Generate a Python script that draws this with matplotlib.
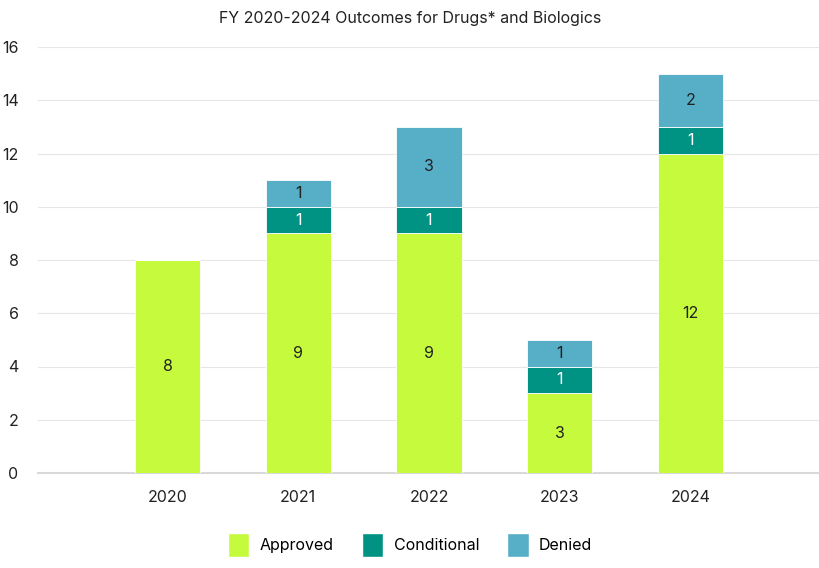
import matplotlib
matplotlib.use("Agg")
import matplotlib.pyplot as plt
from matplotlib.patches import Patch
import numpy as np

plt.rcParams['font.family'] = ['Inter', 'DejaVu Sans']

years = ["2020", "2021", "2022", "2023", "2024"]
approved = [8, 9, 9, 3, 12]
conditional = [0, 1, 1, 1, 1]
denied = [0, 1, 3, 1, 2]
series_names = ["Approved", "Conditional", "Denied"]
colors = ["#C5FB3C", "#009383", "#56AFC6"]
label_colors = ["#222222", "#FFFFFF", "#222222"]
title = "FY 2020-2024 Outcomes for Drugs* and Biologics"

fig = plt.figure(figsize=(8.2, 5.68), dpi=100)
ax = fig.add_axes([38/820, 1 - 473/568, (820-38)/820, (473-47)/568])

x = np.arange(len(years))
bottom = np.zeros(len(years))
for vals, c, lc in zip([approved, conditional, denied], colors, label_colors):
    vals = np.array(vals, dtype=float)
    ax.bar(x, vals, width=0.5, bottom=bottom, color=c, edgecolor="white", linewidth=0.6, zorder=3)
    for xi, b, v in zip(x, bottom, vals):
        if v > 0:
            ax.text(xi, b + v / 2, f"{int(v)}", ha="center", va="center", fontsize=11.5, color=lc, zorder=4)
    bottom += vals

ax.set_xlim(-0.99, 4.99)
ax.set_ylim(0, 16)
ax.set_yticks(range(0, 17, 2))
ax.set_xticks(x)
ax.set_xticklabels(years)
ax.tick_params(axis="both", length=0, labelsize=11.5, colors="#222222")
ax.tick_params(axis="x", pad=12)
ax.tick_params(axis="y", pad=14)
ax.grid(axis="y", color="#E6E6E6", linewidth=0.8, zorder=0)
for s in ["top", "right", "left"]:
    ax.spines[s].set_visible(False)
ax.spines["bottom"].set_color("#D9D9D9")
ax.spines["bottom"].set_linewidth(1.5)

fig.text(410/820, 1 - 18/568, title, ha="center", va="center", fontsize=11.5, color="#222222")

handles = [Patch(facecolor=c, edgecolor="white", label=n) for n, c in zip(series_names, colors)]
fig.legend(handles=handles, loc="center", bbox_to_anchor=(410/820, 1 - 545/568), ncol=3,
           frameon=False, fontsize=11.5, handlelength=1.35, handleheight=1.9,
           handletextpad=0.65, columnspacing=1.75)

fig.savefig("out.png", dpi=100)
